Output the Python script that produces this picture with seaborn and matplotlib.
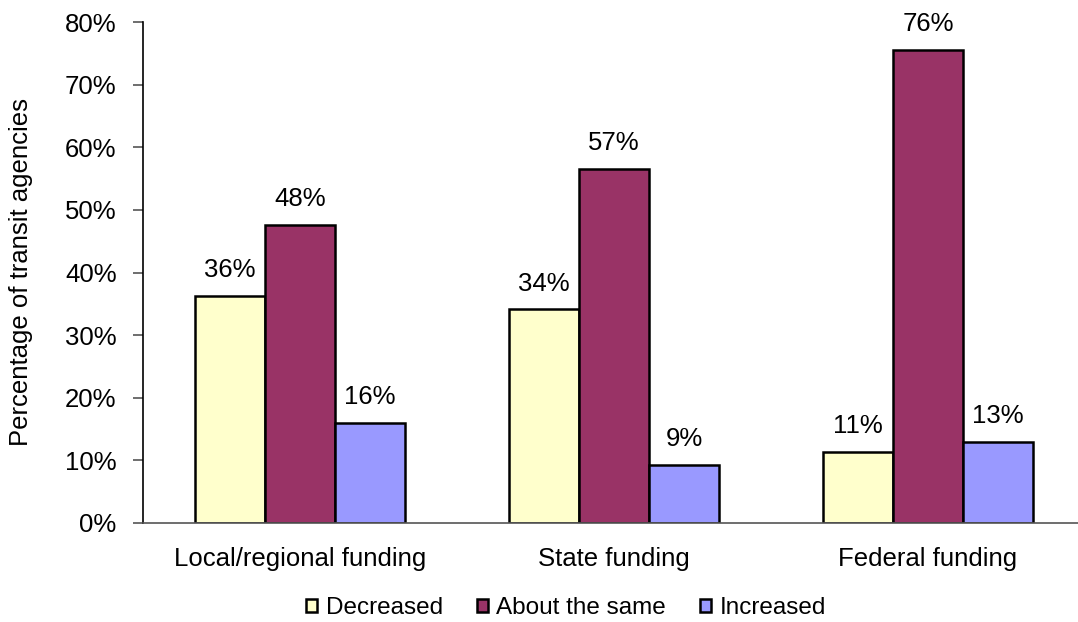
import matplotlib
matplotlib.use("Agg")
import matplotlib.pyplot as plt
import seaborn as sns
import pandas as pd
from matplotlib.ticker import FuncFormatter, FixedLocator

categories = ["Local/regional funding", "State funding", "Federal funding"]
responses = ["Decreased", "About the same", "Increased"]
decreased = [36.3, 34.1, 11.4]
about_same = [47.6, 56.6, 75.6]
increased = [16.0, 9.3, 13.0]
colors = ["#FFFFCC", "#993366", "#9999FF"]
yticks = [0, 10, 20, 30, 40, 50, 60, 70, 80]

rows = []
for resp, vals in zip(responses, [decreased, about_same, increased]):
    for cat, v in zip(categories, vals):
        rows.append({"category": cat, "response": resp, "value": v})
df = pd.DataFrame(rows)

sns.set_theme(style="white")
plt.rcParams["font.family"] = ["Liberation Sans", "DejaVu Sans"]
plt.rcParams["text.color"] = "black"
plt.rcParams["axes.labelcolor"] = "black"
plt.rcParams["xtick.color"] = "black"
plt.rcParams["ytick.color"] = "black"

FS = 18.5

fig = plt.figure(figsize=(10.78, 6.22), dpi=100)
ax = fig.add_axes([143 / 1078, 99 / 622, 942 / 1078, 501 / 622])

sns.barplot(data=df, x="category", y="value", hue="response", order=categories,
            hue_order=responses, palette=colors, edgecolor="black", linewidth=1.8,
            width=0.669, gap=0, ax=ax, saturation=1, errorbar=None)

for cont in ax.containers:
    ax.bar_label(cont, labels=[f"{b.get_height():.0f}%" for b in cont], padding=10,
                 fontsize=FS, color="black")

ax.set_xlim(-0.5, 2.5)
ax.set_ylim(0, 80)
ax.yaxis.set_major_locator(FixedLocator(yticks))
ax.yaxis.set_major_formatter(FuncFormatter(lambda v, p: f"{v:.0f}%"))
ax.set_xlabel("")
ax.set_ylabel("Percentage of transit agencies", fontsize=FS)
ax.yaxis.set_label_coords((33 - 143) / 942, 0.5)

ax.xaxis.set_major_locator(FixedLocator([0, 1, 2]))
ax.xaxis.set_minor_locator(FixedLocator([-0.5, 0.5, 1.5]))
ax.tick_params(axis="x", which="major", length=0, labelsize=FS, pad=17, labelcolor="black")
ax.tick_params(axis="x", which="minor", length=7, width=1.2, color="#555555", direction="out")
ax.tick_params(axis="y", length=7, width=1.2, color="#555555", direction="out",
               labelsize=FS, pad=12, left=True, labelcolor="black")

for s in ["top", "right"]:
    ax.spines[s].set_visible(False)
ax.spines["left"].set_color("black")
ax.spines["left"].set_linewidth(1.2)
ax.spines["bottom"].set_color("#555555")
ax.spines["bottom"].set_linewidth(1.2)

ax.legend_.remove()
handles, labels = ax.get_legend_handles_labels()
fig.legend(handles, labels, loc="center", bbox_to_anchor=(566 / 1078, 1 - 608 / 622),
           ncol=3, frameon=False, fontsize=17.5, handlelength=0.45, handleheight=0.45,
           handletextpad=0.35, columnspacing=1.4, borderaxespad=0)

fig.savefig("out.png", dpi=100)
